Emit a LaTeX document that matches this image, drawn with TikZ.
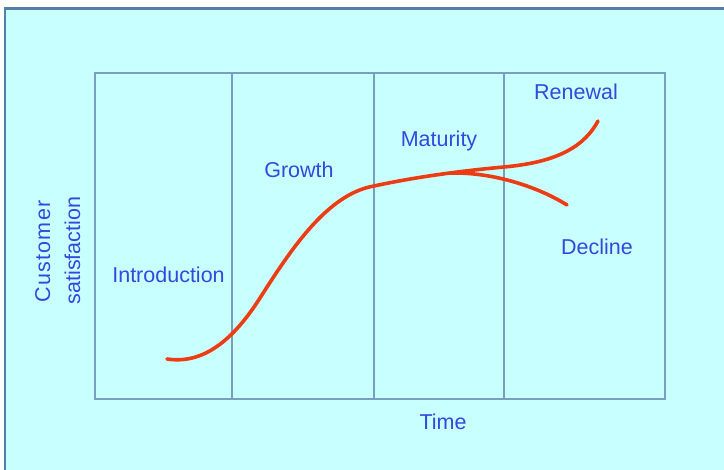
\documentclass[tikz,border=0pt]{standalone}
\usepackage{fontspec}
\setmainfont{Liberation Sans}
\definecolor{panel}{RGB}{200,255,255}
\definecolor{frameblue}{RGB}{84,128,168}
\definecolor{gridblue}{RGB}{120,160,190}
\definecolor{labelblue}{RGB}{52,72,220}
\definecolor{curvered}{RGB}{236,60,20}
\begin{document}
\begin{tikzpicture}[x=1pt,y=-1pt,
  lbl/.style={text=labelblue,font=\fontsize{21.5}{24}\selectfont,inner sep=0pt,anchor=base},
  grid/.style={draw=gridblue,line width=2.2pt},
  lifecurve/.style={draw=curvered,line width=3.6pt,line cap=round}]
  \useasboundingbox (0,0) rectangle (724,470);
  \fill[white] (0,0) rectangle (724,470);
  % panel with frame on top and left
  \fill[panel] (5,8.5) rectangle (724,470);
  \draw[frameblue,line width=2.6pt] (5,472) -- (5,8.5) -- (726,8.5);
  % stage grid
  \draw[grid] (95,73) rectangle (665,399);
  \draw[grid] (232,73) -- (232,399);
  \draw[grid] (374,73) -- (374,399);
  \draw[grid] (504,73) -- (504,399);
  % life-cycle curve with the renewal branch
  \draw[lifecurve] (167,359)
    .. controls (200,364) and (230,345) .. (260,298)
    .. controls (290,251) and (327,194) .. (374,186)
    .. controls (420,176) and (470,170) .. (504,167)
    .. controls (560,162) and (585,145) .. (598,121);
  % decline branch
  \draw[lifecurve] (450,173) .. controls (495,172) and (540,188) .. (567,205);
  % labels
  \node[lbl] (intro) at (168.5,283) {Introduction};
  \node[lbl] (growth) at (299,178) {Growth};
  \node[lbl] (maturity) at (439,147) {Maturity};
  \node[lbl] (renewal) at (576,100) {Renewal};
  \node[lbl] (decline) at (597,255) {Decline};
  \node[lbl] (time) at (443,430) {Time};
  \node[lbl,rotate=90] (cust) at (50,251.5) {\addfontfeature{LetterSpace=6}Customer};
  \node[lbl,rotate=90] (satis) at (80,250.5) {satisfaction};
\end{tikzpicture}
\end{document}
